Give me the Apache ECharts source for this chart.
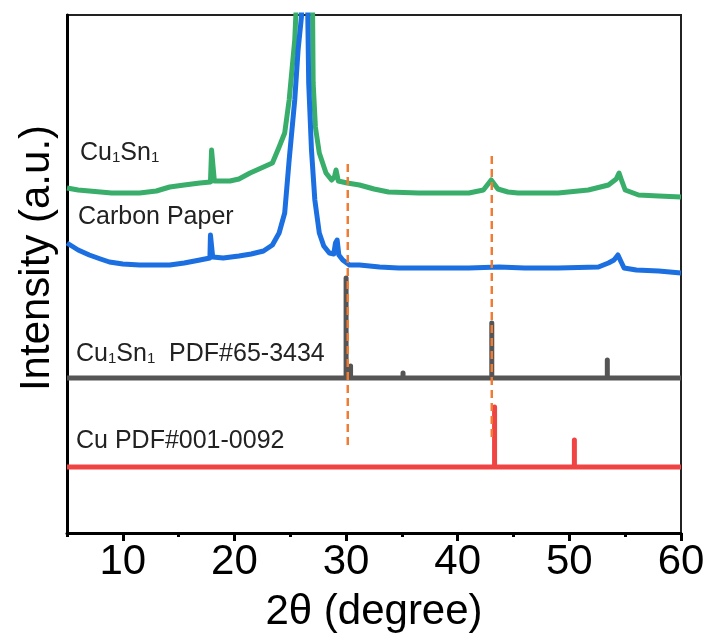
<!DOCTYPE html>
<html>
<head>
<meta charset="utf-8">
<script src="https://cdn.jsdelivr.net/npm/echarts@6/dist/echarts.min.js"></script>
<style>html,body{margin:0;padding:0;background:#fff}#c{width:710px;height:641px}</style>
</head>
<body>
<div id="c"></div>
<script>
// ---- data (2θ in degrees, intensity in arbitrary units with stacked offsets) ----
const majorTicks = [10, 20, 30, 40, 50, 60];
const minorTicks = [5, 15, 25, 35, 45, 55];

const cuSnSample = [
  [5,345],[6,343],[7,342],[8,341],[9,340],[10,340],[11.5,340],[13,342],[14.2,346],[15.5,348],
  [16.9,350],[17.85,351],[17.95,383],[18.1,383],[18.2,352],[19,352],[19.6,352],[20.4,354],[21.4,360],[22.6,366],
  [23.4,370],[24.0,386],[24.5,400],[24.9,433],[25.4,493],[25.5,518],[26.3,700],[27.0,520],
  [27.05,450],[27.25,406],[27.6,380],[28.2,360],[28.7,353],[28.95,356],[29.1,363],[29.3,352],
  [30.1,350],[31.2,348],[32.5,344],[33.8,341],[36.5,340],[41,340],[42.3,343],[43.0,353],[43.6,344],
  [44.5,341],[45.4,340],[49,340],[51.7,343],[53.5,348],[54.2,354],[54.45,360],[54.7,352],[55.0,343],
  [56.2,338],[58,337],[60,336]
];

const carbonPaper = [
  [5,290],[6,283],[7,278],[8,274],[8.8,271],[10,269],[11.5,268],[13,268],[14.2,268],[15.5,270],
  [16.9,273],[17.8,275],[17.85,298],[17.98,298],[18.05,276],[19,275],[20.4,277],[21.5,279],[22.6,282],
  [23.4,288],[24.0,300],[24.5,320],[24.9,373],[25.4,433],[25.7,483],[26.0,516],[26.35,700],
  [26.65,450],[26.9,383],[27.2,333],[27.6,300],[28.0,287],[28.5,280],[28.9,279],[29.05,290],
  [29.2,293],[29.35,278],[29.7,273],[30.3,268],[31.2,268],[33,266],[34.7,265],[41,265],[43.7,266],
  [46,265],[49,265],[52.6,266],[53.5,270],[54.0,273],[54.35,278],[54.6,272],[54.9,265],[56,263],
  [58,262],[60,260]
];

// reference patterns: [position, peak top]; baselines separately
const cuSnRefBase = 155;
const cuSnRefPeaks = [[30.0,255],[30.4,167],[35.1,160],[43.05,210],[53.4,173]];
const cuRefBase = 66;
const cuRefPeaks = [[43.3,126],[50.45,93]];

// guide lines (dashed)
const guideA = [[30.15,88],[30.15,370]];
const guideB = [[43.05,96],[43.05,378]];

const yMax = 518;

// ---- build stick patterns ----
function sticks(base, peaks){
  const out = [[5, base]];
  peaks.forEach(p => { out.push([p[0], base], [p[0], p[1]], [p[0], base]); });
  out.push([60, base]);
  return out;
}

const chart = echarts.init(document.getElementById('c'), null, {renderer:'canvas'});
const FONT = 'Liberation Sans, Arial, sans-serif';
const lineSeries = (name, data, color, width, z) => ({
  name, type:'line', data, showSymbol:false, symbol:'none', smooth:false,
  lineStyle:{color, width, join:'round', cap:'butt'}, z, animation:false, clip:true
});

const richLabel = {
  m:{fontSize:25, lineHeight:25, padding:[0,0,5,0], verticalAlign:'top', fontFamily:FONT, color:'#222'},
  s:{fontSize:15, lineHeight:15, verticalAlign:'bottom', fontFamily:FONT, color:'#222'}
};
function label(x, y, text){
  return {type:'text', x, y: y + 2.5, z:100,
    style:{text, rich:richLabel, fill:'#222', font:'25px ' + FONT, verticalAlign:'middle', align:'left'}};
}

chart.setOption({
  animation:false,
  backgroundColor:'#fff',
  grid:{left:67, right:29, top:15, bottom:108, show:true, borderColor:'#222', borderWidth:2, backgroundColor:'transparent'},
  xAxis:[{
    type:'value', min:5, max:60, position:'bottom',
    axisLine:{show:true, onZero:false, lineStyle:{color:'#000', width:3}},
    axisTick:{show:true, customValues:majorTicks, length:8, lineStyle:{color:'#000', width:3}},
    axisLabel:{customValues:majorTicks, fontSize:42, fontFamily:FONT, color:'#000', margin:8},
    splitLine:{show:false},
    name:'2θ (degree)', nameLocation:'middle', nameGap:58,
    nameTextStyle:{fontSize:42, fontFamily:FONT, color:'#000'}
  },{
    type:'value', min:5, max:60, position:'bottom', gridIndex:0,
    axisLine:{show:false, onZero:false},
    axisTick:{show:true, customValues:minorTicks, length:4, lineStyle:{color:'#000', width:3}},
    axisLabel:{show:false}, splitLine:{show:false}
  }],
  yAxis:{
    type:'value', min:0, max:yMax,
    axisLine:{show:true, onZero:false, lineStyle:{color:'#000', width:3}},
    axisTick:{show:false}, axisLabel:{show:false}, splitLine:{show:false}
  },
  series:[
    lineSeries('Cu PDF#001-0092', sticks(cuRefBase, cuRefPeaks), '#f04444', 5, 2),
    lineSeries('Cu1Sn1 PDF#65-3434', sticks(cuSnRefBase, cuSnRefPeaks), '#555555', 5, 3),
    lineSeries('Cu1Sn1', cuSnSample, '#38ae6a', 5, 4),
    lineSeries('Carbon Paper', carbonPaper, '#1b6fe0', 5, 5),
    {type:'line', data:guideA, symbol:'none', lineStyle:{color:'#ee7c34', width:2.5, type:[8,5]}, z:10, animation:false},
    {type:'line', data:guideB, symbol:'none', lineStyle:{color:'#ee7c34', width:2.5, type:[8,5]}, z:10, animation:false}
  ],
  graphic:[
    label(80, 150.5, '{m|Cu}{s|1}{m|Sn}{s|1}'),
    {type:'text', x:78, y:217.5, z:100, style:{text:'Carbon Paper', fill:'#222', font:'25px ' + FONT, verticalAlign:'middle', align:'left'}},
    label(76, 351.5, '{m|Cu}{s|1}{m|Sn}{s|1}{m|  PDF#65-3434}'),
    {type:'text', x:76, y:441.5, z:100, style:{text:'Cu PDF#001-0092', fill:'#222', font:'25px ' + FONT, verticalAlign:'middle', align:'left'}},
    {type:'text', x:37, y:258, rotation:Math.PI/2, z:100,
      style:{text:'Intensity (a.u.)', fill:'#000', font:'42px ' + FONT, align:'center', verticalAlign:'middle'}}
  ]
});
</script>
</body>
</html>
